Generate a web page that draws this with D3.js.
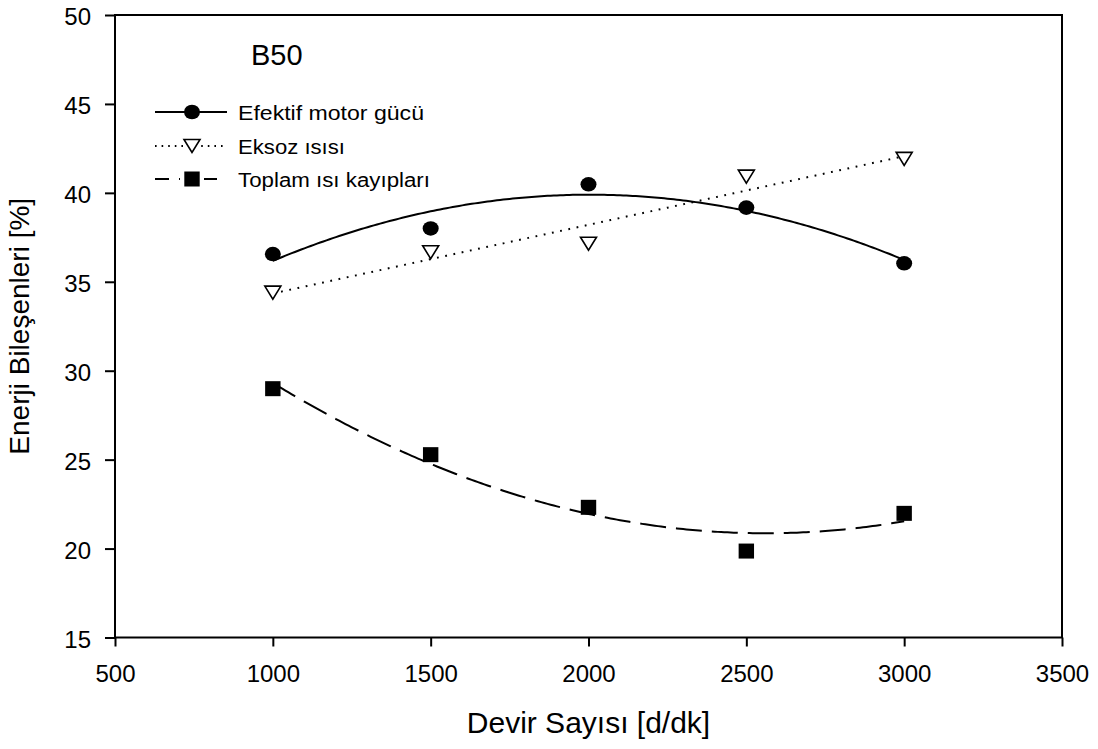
<!DOCTYPE html>
<html><head><meta charset="utf-8">
<script src="https://cdn.jsdelivr.net/npm/d3@7/dist/d3.min.js"></script>
<style>body{margin:0;background:#fff}svg{display:block}text{font-family:"Liberation Sans",Arial,sans-serif;fill:#000}</style>
</head><body><svg id="c" width="1098" height="749"></svg>
<script>
const rpm = [1000, 1500, 2000, 2500, 3000];
const efektif = [36.56, 38.0, 40.48, 39.17, 36.04];
const eksoz = [34.39, 36.66, 37.14, 40.91, 41.91];
const toplam = [28.99, 25.28, 22.32, 19.86, 21.98];
const xTicks = [500, 1000, 1500, 2000, 2500, 3000, 3500];
const yTicks = [15, 20, 25, 30, 35, 40, 45, 50];
const seriesNames = ["Efektif motor gücü", "Eksoz ısısı", "Toplam ısı kayıpları"];

const svg = d3.select("#c");
const L = 115, R = 1062, T = 15, B = 637.5;
const x = d3.scaleLinear().domain([500, 3500]).range([L, R]);
const y = d3.scaleLinear().domain([15, 50]).range([B, T]);

// least-squares polynomial fit of given degree (regression curves as in the original)
function polyfit(xs, ys, deg) {
  const n = deg + 1;
  const A = Array.from({length: n}, () => new Array(n + 1).fill(0));
  const mx = d3.mean(xs), sx = 500;
  xs.forEach((xv, k) => {
    const u = (xv - mx) / sx;
    for (let i = 0; i < n; i++) {
      for (let j = 0; j < n; j++) A[i][j] += Math.pow(u, i + j);
      A[i][n] += Math.pow(u, i) * ys[k];
    }
  });
  for (let i = 0; i < n; i++) {
    let p = i;
    for (let r = i + 1; r < n; r++) if (Math.abs(A[r][i]) > Math.abs(A[p][i])) p = r;
    [A[i], A[p]] = [A[p], A[i]];
    for (let r = 0; r < n; r++) if (r !== i) {
      const f = A[r][i] / A[i][i];
      for (let c = i; c <= n; c++) A[r][c] -= f * A[i][c];
    }
  }
  const coef = A.map((row, i) => row[n] / row[i]);
  return xv => { const u = (xv - mx) / sx; return coef.reduce((s, c, i) => s + c * Math.pow(u, i), 0); };
}

const series = [
  {vals: efektif, deg: 2, dash: null, sym: "circle"},
  {vals: eksoz, deg: 1, dash: "1.8,6.6", sym: "tri"},
  {vals: toplam, deg: 2, dash: "26,10", sym: "square"}
];

const g = svg.append("g");
const line = d3.line().x(d => x(d[0])).y(d => y(d[1]));
const xs = d3.range(rpm[0], rpm[rpm.length - 1] + 1, 10);

function drawSym(sel, type, cx, cy) {
  if (type === "circle") sel.append("ellipse").attr("cx", cx).attr("cy", cy).attr("rx", 8).attr("ry", 7.3).attr("fill", "#000");
  else if (type === "square") sel.append("rect").attr("x", cx - 7.7).attr("y", cy - 7.5).attr("width", 15.4).attr("height", 15).attr("fill", "#000");
  else sel.append("path").attr("d", `M${cx-8},${cy-6.5}L${cx+8},${cy-6.5}L${cx},${cy+6.5}Z`).attr("fill", "#fff").attr("stroke", "#000").attr("stroke-width", 1.6).attr("stroke-linejoin", "miter");
}

series.forEach(s => {
  const f = polyfit(rpm, s.vals, s.deg);
  g.append("path").datum(xs.map(v => [v, f(v)])).attr("d", line)
    .attr("fill", "none").attr("stroke", "#000").attr("stroke-width", 2)
    .attr("stroke-dasharray", s.dash);
});
series.forEach(s => {
  s.vals.forEach((v, i) => drawSym(g, s.sym, x(rpm[i]), y(v)));
});

// frame
svg.append("rect").attr("x", L).attr("y", T).attr("width", R - L).attr("height", B - T)
  .attr("fill", "none").attr("stroke", "#000").attr("stroke-width", 2);

// axes
const xa = svg.append("g").attr("transform", `translate(0,${B})`)
  .call(d3.axisBottom(x).tickValues(xTicks).tickSize(9).tickPadding(18).tickFormat(d3.format("d")));
const ya = svg.append("g").attr("transform", `translate(${L},0)`)
  .call(d3.axisLeft(y).tickValues(yTicks).tickSize(10).tickPadding(14).tickFormat(d3.format("d")));
[xa, ya].forEach(a => {
  a.select(".domain").remove();
  a.selectAll(".tick line").attr("stroke", "#000").attr("stroke-width", 2);
  a.selectAll(".tick text").attr("font-size", 24).attr("font-family", "Liberation Sans, Arial, sans-serif").attr("fill", "#000");
});
ya.selectAll(".tick text").attr("dy", "0.4em");
xa.selectAll(".tick text").attr("dy", "0.71em");

// titles
svg.append("text").attr("x", (L + R) / 2).attr("y", 733).attr("text-anchor", "middle")
  .attr("font-size", 30).text("Devir Sayısı [d/dk]");
svg.append("text").attr("transform", `translate(29,${(T + B) / 2}) rotate(-90)`).attr("text-anchor", "middle")
  .attr("font-size", 28).text("Enerji Bileşenleri [%]");
svg.append("text").attr("x", 251).attr("y", 65).attr("font-size", 29).text("B50");

// legend
const legRows = [112, 146, 179];
const legW = [186, 107, 192];
series.forEach((s, i) => {
  const ly = legRows[i];
  svg.append("line").attr("x1", 155).attr("x2", 227).attr("y1", ly).attr("y2", ly)
    .attr("stroke", "#000").attr("stroke-width", 2).attr("stroke-dasharray", s.dash ? (i === 1 ? "1.6,5" : "14,10") : null);
  if (s.sym === "tri") svg.append("rect").attr("x", 183).attr("y", ly - 9).attr("width", 18).attr("height", 18).attr("fill", "#fff");
  if (s.sym === "square") svg.append("rect").attr("x", 180).attr("y", ly - 9).attr("width", 24).attr("height", 18).attr("fill", "#fff");
  drawSym(svg, s.sym, 192, ly);
  svg.append("text").attr("x", 238).attr("y", ly + 8).attr("font-size", 20)
    .attr("textLength", legW[i]).attr("lengthAdjust", "spacingAndGlyphs").text(seriesNames[i]);
});
</script></body></html>
